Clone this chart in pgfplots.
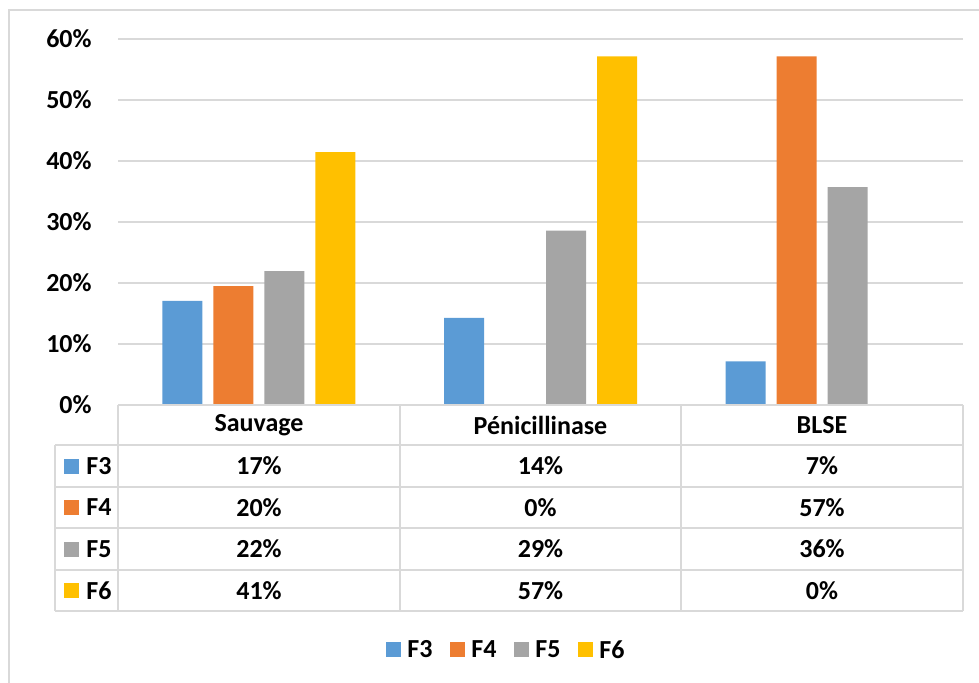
\documentclass[border=0pt]{standalone}
\usepackage{fontspec}
\setmainfont{Carlito}
\usepackage{pgfplots}
\pgfplotsset{compat=1.18}
\definecolor{cF3}{HTML}{5B9BD5}
\definecolor{cF4}{HTML}{ED7D31}
\definecolor{cF5}{HTML}{A5A5A5}
\definecolor{cF6}{HTML}{FFC000}
\definecolor{gridc}{HTML}{D9D9D9}
\begin{document}
\fontsize{13}{15.6}\selectfont\bfseries
\begin{tikzpicture}[x=0.5pt,y=-0.5pt]
  \useasboundingbox (0,0) rectangle (979,682);
  % outer frame
  \draw[gridc,line width=0.75pt] (9,690) -- (9,10) -- (990,10);
  \begin{axis}[
    at={(59pt,-202.5pt)}, anchor=south west,
    scale only axis,
    width=422.5pt, height=183pt,
    xmin=-0.5, xmax=2.5,
    ymin=0, ymax=60,
    ytick={0,10,...,60},
    yticklabel={\pgfmathprintnumber{\tick}\%},
    /pgf/number format/assume math mode=true,
    yticklabel style={inner sep=0pt, xshift=-13pt, font=\fontsize{13}{15.6}\selectfont\bfseries},
    xtick=\empty,
    major tick length=0pt,
    axis line style={draw=none},
    ymajorgrids,
    grid style={gridc, line width=0.75pt},
    ybar=5.5pt,
    bar width=20pt,
  ]
    \addplot[fill=cF3, draw=none] coordinates {(0,17.07) (1,14.29) (2,7.14)};
    \addplot[fill=cF4, draw=none] coordinates {(0,19.51) (1,0) (2,57.14)};
    \addplot[fill=cF5, draw=none] coordinates {(0,21.95) (1,28.57) (2,35.71)};
    \addplot[fill=cF6, draw=none] coordinates {(0,41.46) (1,57.14) (2,0)};
  \end{axis}
  % data table
  \begin{scope}[gridc, line width=0.75pt]
    \draw (118,405) -- (963,405);
    \foreach \yy in {445,487,528,570,611} \draw (55,\yy) -- (963,\yy);
    \foreach \xx in {118,400,681,963} \draw (\xx,405) -- (\xx,611);
    \draw (55,445) -- (55,611);
  \end{scope}
  \node at (259,425) {Sauvage};
  \node at (540.5,425) {Pénicillinase};
  \node at (822,425) {BLSE};
  \foreach \yy/\c/\n/\a/\b/\d in {
      466/cF3/F3/17\%/14\%/7\%,
      507.5/cF4/F4/20\%/0\%/57\%,
      549/cF5/F5/22\%/29\%/36\%,
      590.5/cF6/F6/41\%/57\%/0\%} {
    \fill[\c] (64,\yy-7.5) rectangle (79,\yy+7.5);
    \node[anchor=west, inner sep=0pt] at (86,\yy) {\n};
    \node at (259,\yy) {\a};
    \node at (540.5,\yy) {\b};
    \node at (822,\yy) {\d};
  }
  % legend
  \foreach \xx/\c/\n in {386/cF3/F3, 450/cF4/F4, 514/cF5/F5, 578/cF6/F6} {
    \fill[\c] (\xx,642) rectangle (\xx+15,657);
    \node[anchor=west, inner sep=0pt] at (\xx+21,649.5) {\n};
  }
\end{tikzpicture}
\end{document}
